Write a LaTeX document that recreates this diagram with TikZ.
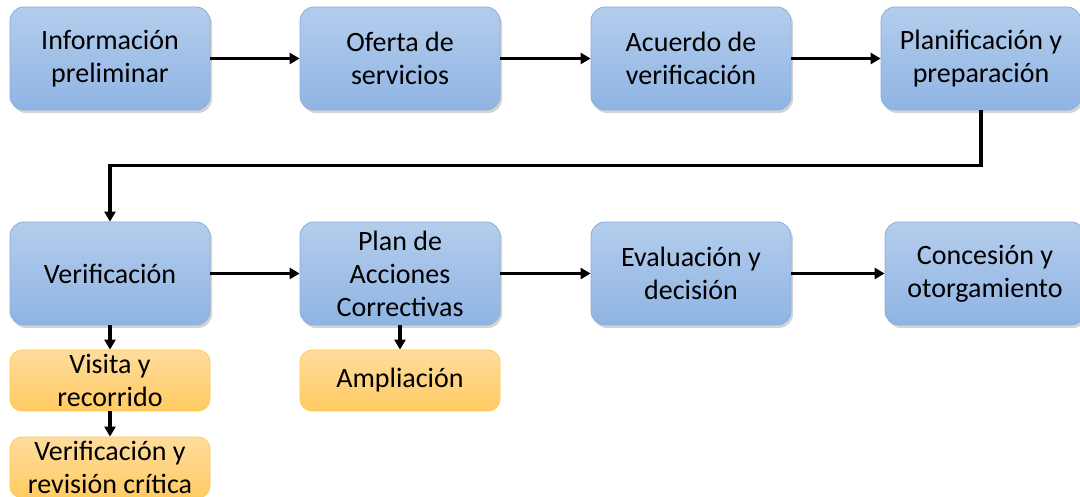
\documentclass[tikz,border=0pt]{standalone}
\usepackage{fontspec}
\setmainfont{Carlito}
\usetikzlibrary{arrows.meta,shadows}
\definecolor{stepTop}{HTML}{B4CDEC}
\definecolor{stepBot}{HTML}{8FB4E3}
\definecolor{stepLine}{HTML}{8AAEDD}
\definecolor{subTop}{HTML}{FFDC9E}
\definecolor{subBot}{HTML}{FFCB62}
\definecolor{subLine}{HTML}{FFCA4E}
\begin{document}
\begin{tikzpicture}[x=1pt,y=-1pt,
    stepbox/.style={draw=stepLine,line width=0.8pt,rounded corners=14pt,
      top color=stepTop,bottom color=stepBot,minimum width=200pt,minimum height=103pt,
      inner sep=0pt,align=center,font=\fontsize{28}{33}\selectfont,
      drop shadow={shadow xshift=2pt,shadow yshift=-3pt,opacity=0.35}},
    subbox/.style={draw=subLine,line width=0.8pt,rounded corners=12pt,
      top color=subTop,bottom color=subBot,minimum width=200pt,minimum height=61pt,
      inner sep=0pt,align=center,font=\fontsize{28}{33}\selectfont},
    link/.style={->,line width=3.4pt},
    >={Triangle[length=10pt,width=11pt]}]
  \useasboundingbox (0,0) rectangle (1080,497);
  % first row
  \node [stepbox] (info) at (110,58.5) {Información\\preliminar};
  \node [stepbox] (oferta) at (400,58.5) {Oferta de\\servicios};
  \node [stepbox] (acuerdo) at (691,58.5) {Acuerdo de\\verificación};
  \node [stepbox] (plan) at (981,58.5) {Planificación y\\preparación};
  % second row
  \node [stepbox] (verif) at (110,273.5) {Verificación};
  \node [stepbox] (pac) at (400,273.5) {Plan de\\Acciones\\Correctivas};
  \node [stepbox] (eval) at (691,273.5) {Evaluación y\\decisión};
  \node [stepbox] (conc) at (985,273.5) {Concesión y\\otorgamiento};
  % sub-steps
  \node [subbox] (visita) at (110,380.5) {Visita y\\recorrido};
  \node [subbox] (revision) at (110,467.5) {Verificación y\\revisión crítica};
  \node [subbox] (ampl) at (400,380.5) {Ampliación};
  \draw [link] (info) -- (oferta);
  \draw [link] (oferta) -- (acuerdo);
  \draw [link] (acuerdo) -- (plan);
  \draw [link] (plan.south) -- ++(0,55) -| (verif.north);
  \draw [link] (verif) -- (pac);
  \draw [link] (pac) -- (eval);
  \draw [link] (eval) -- (conc);
  \draw [link] (verif) -- (visita);
  \draw [link] (visita) -- (revision);
  \draw [link] (pac) -- (ampl);
\end{tikzpicture}
\end{document}
